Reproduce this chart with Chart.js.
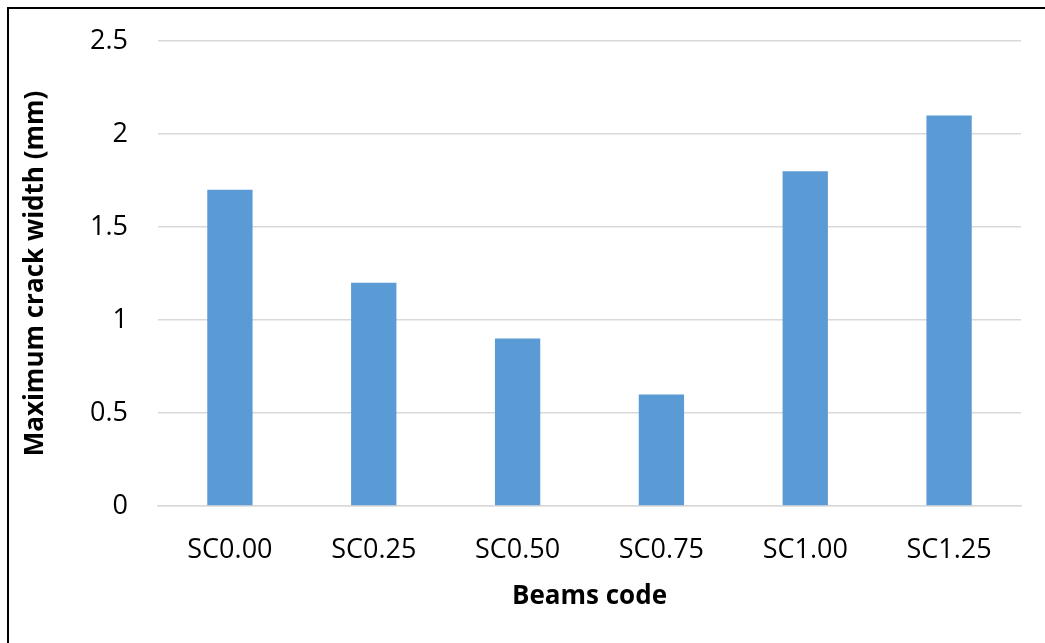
<!DOCTYPE html>
<html>
<head>
<meta charset="utf-8">
<script src="https://cdn.jsdelivr.net/npm/chart.js@4.4.1/dist/chart.umd.min.js"></script>
<style>
  html, body { margin: 0; padding: 0; background: #fff; }
  #wrap { width: 1045px; height: 643px; position: relative; }
</style>
</head>
<body>
<div id="wrap"><canvas id="chart" width="1045" height="643"></canvas></div>
<script>
// Beam codes and measured maximum crack widths (mm)
const beamCodes = ['SC0.00', 'SC0.25', 'SC0.50', 'SC0.75', 'SC1.00', 'SC1.25'];
const crackWidths = [1.7, 1.2, 0.9, 0.6, 1.8, 2.1];
const yTicks = [0, 0.5, 1, 1.5, 2, 2.5];
const yTickLabels = ['0', '0.5', '1', '1.5', '2', '2.5'];

const FONT = '"Open Sans", "Noto Sans", sans-serif';

// Frame lines along the top and left of the chart box
const framePlugin = {
  id: 'frame',
  beforeDraw(chart) {
    const ctx = chart.ctx;
    ctx.save();
    ctx.fillStyle = '#fff';
    ctx.fillRect(0, 0, chart.width, chart.height);
    ctx.strokeStyle = '#000';
    ctx.lineWidth = 2;
    ctx.beginPath();
    ctx.moveTo(8, chart.height);
    ctx.lineTo(8, 8);
    ctx.lineTo(chart.width, 8);
    ctx.stroke();
    ctx.restore();
  }
};

new Chart(document.getElementById('chart'), {
  type: 'bar',
  data: {
    labels: beamCodes,
    datasets: [{
      data: crackWidths,
      backgroundColor: '#5b9bd5',
      borderWidth: 0,
      barPercentage: 0.315,
      categoryPercentage: 1
    }]
  },
  options: {
    responsive: false,
    animation: false,
    layout: { padding: { left: 0, right: 24, top: 41, bottom: 31 } },
    plugins: { legend: { display: false }, tooltip: { enabled: false } },
    scales: {
      x: {
        grid: { display: false, drawTicks: false },
        border: { display: true, color: '#d9d9d9', width: 1.5 },
        ticks: { color: '#000', font: { family: FONT, size: 27 }, padding: 28, maxRotation: 0 },
        title: {
          display: true, text: 'Beams code', color: '#000',
          font: { family: FONT, size: 26, weight: 'bold' },
          padding: { top: 0, bottom: 0 }
        },
        afterFit(scale) { scale.height = 643 - 31 - 506; }
      },
      y: {
        min: 0, max: 2.5,
        afterBuildTicks(scale) { scale.ticks = yTicks.map(v => ({ value: v })); },
        grid: { color: '#d9d9d9', lineWidth: 1.5, drawTicks: false },
        border: { display: false },
        ticks: {
          color: '#000', font: { family: FONT, size: 27 }, padding: 30,
          callback: (v) => yTickLabels[yTicks.indexOf(v)]
        },
        title: {
          display: true, text: 'Maximum crack width (mm)', color: '#000',
          font: { family: FONT, size: 26, weight: 'bold' },
          padding: { top: 20, bottom: 0 }
        },
        afterFit(scale) {
          scale.width = 158;
          scale.paddingTop = 0;
          scale.paddingBottom = 0;
        }
      }
    }
  },
  plugins: [framePlugin]
});
</script>
</body>
</html>
